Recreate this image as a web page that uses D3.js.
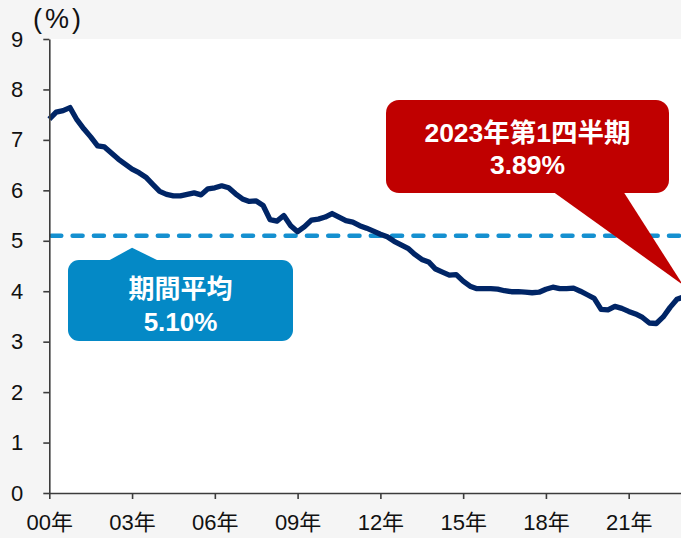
<!DOCTYPE html>
<html>
<head>
<meta charset="utf-8">
<script src="https://cdn.jsdelivr.net/npm/d3@7"></script>
<style>
  html, body { margin: 0; padding: 0; background: #f5f5f5; }
  svg { display: block; }
</style>
</head>
<body>
<script>
// 完全失業率（四半期、2000年第1四半期〜2023年第1四半期）
const startYear = 2000;
const rates = [
  7.41, 7.55, 7.58, 7.64, 7.40, 7.22, 7.06, 6.88, 6.86, 6.74,
  6.62, 6.52, 6.42, 6.35, 6.26, 6.12, 5.98, 5.92, 5.89, 5.89,
  5.92, 5.95, 5.91, 6.03, 6.05, 6.09, 6.05, 5.93, 5.83, 5.78,
  5.79, 5.70, 5.42, 5.39, 5.50, 5.30, 5.18, 5.28, 5.41, 5.43,
  5.47, 5.54, 5.47, 5.40, 5.37, 5.30, 5.25, 5.19, 5.13, 5.08,
  4.99, 4.92, 4.85, 4.73, 4.63, 4.58, 4.44, 4.38, 4.32, 4.33,
  4.20, 4.10, 4.05, 4.05, 4.05, 4.04, 4.01, 3.99, 3.99, 3.98,
  3.97, 3.98, 4.04, 4.08, 4.05, 4.05, 4.06, 4.00, 3.93, 3.86,
  3.64, 3.63, 3.70, 3.66, 3.60, 3.55, 3.48, 3.37, 3.36, 3.49,
  3.68, 3.84, 3.89
];
const averageRate = 5.10;

const yTicks = [0, 1, 2, 3, 4, 5, 6, 7, 8, 9];
const xTickYears = [0, 3, 6, 9, 12, 15, 18, 21];
const xTickLabels = ["00年", "03年", "06年", "09年", "12年", "15年", "18年", "21年"];

const unitLabel = "(%)";
const avgLabel = ["期間平均", "5.10%"];
const lastLabel = ["2023年第1四半期", "3.89%"];

const WIDTH = 681,
      HEIGHT = 538;

let margin = {top: 39, left: 49.3, bottom: 45},
    plotRight = 681;

const FONT = "'Liberation Sans', Arial, 'Noto Sans CJK JP', sans-serif";

let svg = d3.select("body").append("svg")
              .attr("width", WIDTH)
              .attr("height", HEIGHT)
              .style("font-family", FONT);

// scales
let xScale = d3.scaleLinear()
    .domain([0, 23])
    .range([margin.left, margin.left + 23 * 27.59]);

let yScale = d3.scaleLinear()
    .domain([0, 9])
    .range([HEIGHT - margin.bottom, margin.top]);

// plot area
svg.append("rect")
    .attr("x", margin.left)
    .attr("y", margin.top)
    .attr("width", plotRight - margin.left)
    .attr("height", yScale(0) - margin.top)
    .attr("fill", "#ffffff");

// average line
svg.append("line")
    .attr("x1", xScale(0) + 2)
    .attr("x2", plotRight)
    .attr("y1", yScale(averageRate))
    .attr("y2", yScale(averageRate))
    .attr("stroke", "#1590d0")
    .attr("stroke-width", 4.5)
    .attr("stroke-linecap", "round")
    .attr("stroke-dasharray", "10,11.3");

// rate line
let line = d3.line()
    .x((d, i) => xScale(i / 4))
    .y(d => yScale(d));

svg.append("path")
    .datum(rates)
    .attr("fill", "none")
    .attr("stroke", "#002566")
    .attr("stroke-width", 5.3)
    .attr("stroke-linejoin", "round")
    .attr("d", line);

// axes
let xAxis = svg.append("g")
    .attr("transform", "translate(0," + yScale(0) + ")")
    .call(d3.axisBottom(xScale)
            .tickValues(xTickYears)
            .tickFormat((d, i) => xTickLabels[i])
            .tickSize(6)
            .tickSizeOuter(0)
            .tickPadding(15));

let yAxis = svg.append("g")
    .attr("transform", "translate(" + margin.left + ",0)")
    .call(d3.axisLeft(yScale)
            .tickValues(yTicks)
            .tickFormat(d3.format("d"))
            .tickSize(6)
            .tickSizeOuter(0)
            .tickPadding(20));

svg.selectAll(".domain, .tick line")
    .attr("stroke", "#3c3c3c")
    .attr("stroke-width", 1.6);

svg.selectAll(".tick text")
    .attr("fill", "#111")
    .attr("font-size", 22)
    .attr("font-family", FONT);

svg.append("text")
    .attr("x", 33)
    .attr("y", 28)
    .attr("font-size", 27)
    .attr("letter-spacing", 3)
    .attr("fill", "#111")
    .text(unitLabel);

// callout: average
let blue = "#0489c6";
let avgBox = {x: 68, y: 260, w: 225, h: 81};
let avgTip = [xScale(3), yScale(averageRate) + 12];

svg.append("path")
    .attr("d", "M" + (avgTip[0] - 26) + "," + (avgBox.y + 2) +
               "L" + avgTip[0] + "," + avgTip[1] +
               "L" + (avgTip[0] + 29) + "," + (avgBox.y + 2) + "Z")
    .attr("fill", blue);

svg.append("rect")
    .attr("x", avgBox.x).attr("y", avgBox.y)
    .attr("width", avgBox.w).attr("height", avgBox.h)
    .attr("rx", 11)
    .attr("fill", blue);

svg.selectAll(".avgText")
    .data(avgLabel)
    .enter().append("text")
        .attr("class", "avgText")
        .attr("x", avgBox.x + avgBox.w / 2)
        .attr("y", (d, i) => 298 + i * 33)
        .attr("text-anchor", "middle")
        .attr("font-size", 26)
        .attr("font-weight", "bold")
        .attr("fill", "#fff")
        .text(d => d);

// callout: latest value
let red = "#c00000";
let lastBox = {x: 386, y: 100, w: 283, h: 93};
let lastTip = [xScale(23) - 1, yScale(rates[rates.length - 1]) - 12];

svg.append("path")
    .attr("d", "M552," + (lastBox.y + lastBox.h - 2) +
               "L" + lastTip[0] + "," + lastTip[1] +
               "L623," + (lastBox.y + lastBox.h - 2) + "Z")
    .attr("fill", red);

svg.append("rect")
    .attr("x", lastBox.x).attr("y", lastBox.y)
    .attr("width", lastBox.w).attr("height", lastBox.h)
    .attr("rx", 13)
    .attr("fill", red);

svg.selectAll(".lastText")
    .data(lastLabel)
    .enter().append("text")
        .attr("class", "lastText")
        .attr("x", lastBox.x + lastBox.w / 2)
        .attr("y", (d, i) => 141.5 + i * 32.5)
        .attr("text-anchor", "middle")
        .attr("font-size", 26.5)
        .attr("font-weight", "bold")
        .attr("fill", "#fff")
        .text(d => d);
</script>
</body>
</html>
